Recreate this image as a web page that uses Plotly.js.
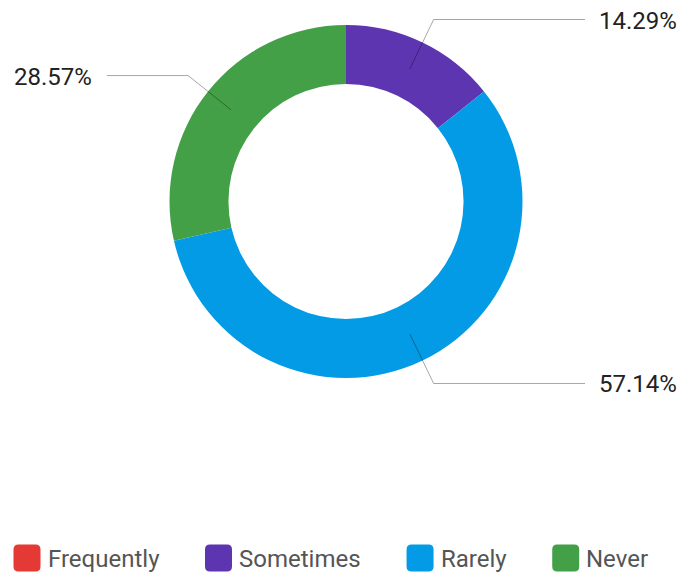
<!DOCTYPE html>
<html><head><meta charset="utf-8">
<script src="https://cdn.plot.ly/plotly-3.0.1.min.js"></script>
<style>html,body{margin:0;padding:0;background:#fff;} #chart{width:681px;height:575px;}</style>
</head><body><div id="chart"></div>
<script>
// ---- data ----
const categories = ["Frequently", "Sometimes", "Rarely", "Never"];
const counts = [0, 1, 4, 2];
const colors = ["#e53935", "#5e35b1", "#039be5", "#43a047"];

// ---- layout constants (pixels) ----
const W = 681, H = 575;
const cx = 346, cy = 201.5, R = 176.5, HOLE = 0.666;
const rStart = 147, rElbow = 202;
const rightLineEnd = 585, leftLineEnd = 107;
const rightTextX = 597, leftTextX = 94;
const FONT = "Roboto, 'Open Sans', sans-serif";

const px = x => x / W;
const py = y => 1 - y / H;

const total = counts.reduce((a, b) => a + b, 0);
const shapes = [];
const annotations = [];

// leader lines + percent labels derived from data
let cum = 0;
counts.forEach((v, i) => {
  const a0 = cum / total * 2 * Math.PI;
  cum += v;
  if (v <= 0) return;
  const a1 = cum / total * 2 * Math.PI;
  const mid = (a0 + a1) / 2; // clockwise from 12 o'clock
  const sx = cx + rStart * Math.sin(mid), sy = cy - rStart * Math.cos(mid);
  const ex = cx + rElbow * Math.sin(mid), ey = cy - rElbow * Math.cos(mid);
  const right = Math.sin(mid) >= 0;
  const hx = right ? rightLineEnd : leftLineEnd;
  shapes.push({
    type: "path", xref: "paper", yref: "paper",
    path: `M${px(sx)},${py(sy)} L${px(ex)},${py(ey)} L${px(hx)},${py(ey)}`,
    line: { color: "rgba(0,0,0,0.35)", width: 1 }
  });
  annotations.push({
    xref: "paper", yref: "paper",
    x: px(right ? rightTextX : leftTextX), y: py(ey + 1),
    xanchor: right ? "left" : "right", yanchor: "middle",
    text: (v / total * 100).toFixed(2) + "%",
    showarrow: false,
    font: { family: FONT, size: 24, color: "#222222" }
  });
});

// custom legend with rounded squares
const ctx = document.createElement("canvas").getContext("2d");
ctx.font = "24px Roboto";
const legY = 558, sq = 27, rad = 5, gapTxt = 7, gapItem = 46;
let lx = 13.5;
function roundRect(x0, y0, w, h, r) {
  const x1 = x0 + w, y1 = y0 + h;
  const P = (x, y) => `${px(x)},${py(y)}`;
  return `M${P(x0 + r, y0)} L${P(x1 - r, y0)} Q${P(x1, y0)} ${P(x1, y0 + r)} ` +
    `L${P(x1, y1 - r)} Q${P(x1, y1)} ${P(x1 - r, y1)} L${P(x0 + r, y1)} ` +
    `Q${P(x0, y1)} ${P(x0, y1 - r)} L${P(x0, y0 + r)} Q${P(x0, y0)} ${P(x0 + r, y0)} Z`;
}
categories.forEach((c, i) => {
  shapes.push({
    type: "path", xref: "paper", yref: "paper",
    path: roundRect(lx, legY - sq / 2, sq, sq, rad),
    fillcolor: colors[i], line: { width: 0 }
  });
  const tx = lx + sq + gapTxt;
  annotations.push({
    xref: "paper", yref: "paper", x: px(tx - 2), y: py(legY + 1),
    xanchor: "left", yanchor: "middle", text: c, showarrow: false,
    font: { family: FONT, size: 24, color: "#555555" }
  });
  lx = tx + ctx.measureText(c).width + gapItem;
});

const trace = {
  type: "pie",
  labels: categories,
  values: counts,
  marker: { colors: colors, line: { width: 0 } },
  hole: HOLE,
  sort: false,
  direction: "clockwise",
  rotation: 0,
  textinfo: "none",
  hoverinfo: "label+percent",
  showlegend: false,
  domain: { x: [px(cx - R), px(cx + R)], y: [py(cy + R), py(cy - R)] }
};

Plotly.newPlot("chart", [trace], {
  width: W, height: H,
  margin: { l: 0, r: 0, t: 0, b: 0 },
  paper_bgcolor: "#ffffff",
  showlegend: false,
  shapes: shapes,
  annotations: annotations
}, { displayModeBar: false, staticPlot: true });
</script>
</body></html>
